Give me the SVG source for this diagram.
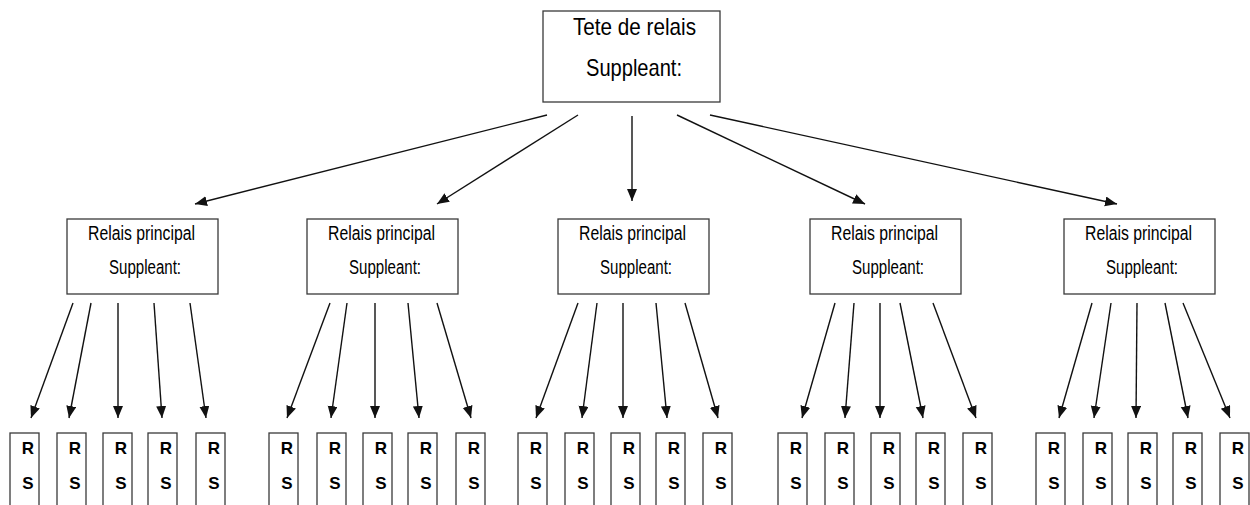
<svg xmlns="http://www.w3.org/2000/svg" width="1250" height="505" viewBox="0 0 1250 505">
<style>
.box{fill:#fff;stroke:#3a3a3a;stroke-width:1.3}
.t{font-family:"Liberation Sans",Arial,sans-serif;fill:#000;text-anchor:middle}
.big{font-size:24px}
.mid{font-size:20px}
.sm{font-size:17px;font-weight:bold}
.c line{stroke:#111;stroke-width:1.4;marker-end:url(#ah)}
</style>
<defs>
<marker id="ah" markerUnits="userSpaceOnUse" markerWidth="13" markerHeight="11" refX="12" refY="5" orient="auto">
<path d="M0,0 L12,5 L0,10 z" fill="#111"/>
</marker>
</defs>
<g id="top">
<rect class="box" x="543" y="11" width="177" height="91"/>
<text class="t big" x="634.5" y="35" textLength="123" lengthAdjust="spacingAndGlyphs">Tete de relais</text>
<text class="t big" x="634" y="76" textLength="96" lengthAdjust="spacingAndGlyphs">Suppleant:</text>
</g>
<g id="m1">
<rect class="box" x="67" y="219" width="151" height="75"/>
<text class="t mid" x="141.5" y="240" textLength="107" lengthAdjust="spacingAndGlyphs">Relais principal</text>
<text class="t mid" x="145" y="274" textLength="72" lengthAdjust="spacingAndGlyphs">Suppleant:</text>
</g>
<g id="m2">
<rect class="box" x="307" y="219" width="151" height="75"/>
<text class="t mid" x="381.5" y="240" textLength="107" lengthAdjust="spacingAndGlyphs">Relais principal</text>
<text class="t mid" x="385" y="274" textLength="72" lengthAdjust="spacingAndGlyphs">Suppleant:</text>
</g>
<g id="m3">
<rect class="box" x="558" y="219" width="151" height="75"/>
<text class="t mid" x="632.5" y="240" textLength="107" lengthAdjust="spacingAndGlyphs">Relais principal</text>
<text class="t mid" x="636" y="274" textLength="72" lengthAdjust="spacingAndGlyphs">Suppleant:</text>
</g>
<g id="m4">
<rect class="box" x="810" y="219" width="151" height="75"/>
<text class="t mid" x="884.5" y="240" textLength="107" lengthAdjust="spacingAndGlyphs">Relais principal</text>
<text class="t mid" x="888" y="274" textLength="72" lengthAdjust="spacingAndGlyphs">Suppleant:</text>
</g>
<g id="m5">
<rect class="box" x="1064" y="219" width="151" height="75"/>
<text class="t mid" x="1138.5" y="240" textLength="107" lengthAdjust="spacingAndGlyphs">Relais principal</text>
<text class="t mid" x="1142" y="274" textLength="72" lengthAdjust="spacingAndGlyphs">Suppleant:</text>
</g>
<g id="leaves1">
<g id="l1a"><rect class="box" x="10" y="433" width="29" height="80"/><text class="t sm" x="28" y="454">R</text><text class="t sm" x="28" y="489">S</text></g>
<g id="l1b"><rect class="box" x="57" y="433" width="29" height="80"/><text class="t sm" x="75" y="454">R</text><text class="t sm" x="75" y="489">S</text></g>
<g id="l1c"><rect class="box" x="103" y="433" width="29" height="80"/><text class="t sm" x="121" y="454">R</text><text class="t sm" x="121" y="489">S</text></g>
<g id="l1d"><rect class="box" x="148" y="433" width="29" height="80"/><text class="t sm" x="166" y="454">R</text><text class="t sm" x="166" y="489">S</text></g>
<g id="l1e"><rect class="box" x="196" y="433" width="29" height="80"/><text class="t sm" x="214" y="454">R</text><text class="t sm" x="214" y="489">S</text></g>
</g>
<g id="leaves2">
<g id="l2a"><rect class="box" x="269" y="433" width="29" height="80"/><text class="t sm" x="287" y="454">R</text><text class="t sm" x="287" y="489">S</text></g>
<g id="l2b"><rect class="box" x="317" y="433" width="29" height="80"/><text class="t sm" x="335" y="454">R</text><text class="t sm" x="335" y="489">S</text></g>
<g id="l2c"><rect class="box" x="363" y="433" width="29" height="80"/><text class="t sm" x="381" y="454">R</text><text class="t sm" x="381" y="489">S</text></g>
<g id="l2d"><rect class="box" x="408" y="433" width="29" height="80"/><text class="t sm" x="426" y="454">R</text><text class="t sm" x="426" y="489">S</text></g>
<g id="l2e"><rect class="box" x="456" y="433" width="29" height="80"/><text class="t sm" x="474" y="454">R</text><text class="t sm" x="474" y="489">S</text></g>
</g>
<g id="leaves3">
<g id="l3a"><rect class="box" x="518" y="433" width="29" height="80"/><text class="t sm" x="536" y="454">R</text><text class="t sm" x="536" y="489">S</text></g>
<g id="l3b"><rect class="box" x="565" y="433" width="29" height="80"/><text class="t sm" x="583" y="454">R</text><text class="t sm" x="583" y="489">S</text></g>
<g id="l3c"><rect class="box" x="611" y="433" width="29" height="80"/><text class="t sm" x="629" y="454">R</text><text class="t sm" x="629" y="489">S</text></g>
<g id="l3d"><rect class="box" x="656" y="433" width="29" height="80"/><text class="t sm" x="674" y="454">R</text><text class="t sm" x="674" y="489">S</text></g>
<g id="l3e"><rect class="box" x="703" y="433" width="29" height="80"/><text class="t sm" x="721" y="454">R</text><text class="t sm" x="721" y="489">S</text></g>
</g>
<g id="leaves4">
<g id="l4a"><rect class="box" x="778" y="433" width="29" height="80"/><text class="t sm" x="796" y="454">R</text><text class="t sm" x="796" y="489">S</text></g>
<g id="l4b"><rect class="box" x="825" y="433" width="29" height="80"/><text class="t sm" x="843" y="454">R</text><text class="t sm" x="843" y="489">S</text></g>
<g id="l4c"><rect class="box" x="871" y="433" width="29" height="80"/><text class="t sm" x="889" y="454">R</text><text class="t sm" x="889" y="489">S</text></g>
<g id="l4d"><rect class="box" x="916" y="433" width="29" height="80"/><text class="t sm" x="934" y="454">R</text><text class="t sm" x="934" y="489">S</text></g>
<g id="l4e"><rect class="box" x="963" y="433" width="29" height="80"/><text class="t sm" x="981" y="454">R</text><text class="t sm" x="981" y="489">S</text></g>
</g>
<g id="leaves5">
<g id="l5a"><rect class="box" x="1036" y="433" width="29" height="80"/><text class="t sm" x="1054" y="454">R</text><text class="t sm" x="1054" y="489">S</text></g>
<g id="l5b"><rect class="box" x="1083" y="433" width="29" height="80"/><text class="t sm" x="1101" y="454">R</text><text class="t sm" x="1101" y="489">S</text></g>
<g id="l5c"><rect class="box" x="1128" y="433" width="29" height="80"/><text class="t sm" x="1146" y="454">R</text><text class="t sm" x="1146" y="489">S</text></g>
<g id="l5d"><rect class="box" x="1173" y="433" width="29" height="80"/><text class="t sm" x="1191" y="454">R</text><text class="t sm" x="1191" y="489">S</text></g>
<g id="l5e"><rect class="box" x="1220" y="433" width="29" height="80"/><text class="t sm" x="1238" y="454">R</text><text class="t sm" x="1238" y="489">S</text></g>
</g>
<g id="connectors" class="c">
<line x1="547" y1="115" x2="195" y2="204"/>
<line x1="578" y1="115" x2="437" y2="204"/>
<line x1="632" y1="116" x2="632" y2="201"/>
<line x1="677" y1="115" x2="865" y2="204"/>
<line x1="710" y1="115" x2="1117" y2="204"/>
<line x1="73" y1="303" x2="31" y2="418"/>
<line x1="91" y1="303" x2="69" y2="418"/>
<line x1="118" y1="303" x2="118" y2="418"/>
<line x1="154" y1="303" x2="162" y2="418"/>
<line x1="190" y1="303" x2="206" y2="418"/>
<line x1="330" y1="303" x2="287" y2="418"/>
<line x1="347" y1="303" x2="331" y2="418"/>
<line x1="375" y1="303" x2="375" y2="418"/>
<line x1="408" y1="303" x2="419" y2="418"/>
<line x1="437" y1="303" x2="471" y2="418"/>
<line x1="578" y1="303" x2="536" y2="418"/>
<line x1="597" y1="303" x2="582" y2="418"/>
<line x1="623" y1="303" x2="623" y2="418"/>
<line x1="656" y1="303" x2="667" y2="418"/>
<line x1="685" y1="303" x2="718" y2="418"/>
<line x1="835" y1="303" x2="802" y2="418"/>
<line x1="854" y1="303" x2="845" y2="418"/>
<line x1="880" y1="303" x2="880" y2="418"/>
<line x1="900" y1="303" x2="923" y2="418"/>
<line x1="933" y1="303" x2="976" y2="418"/>
<line x1="1092" y1="303" x2="1059" y2="418"/>
<line x1="1111" y1="303" x2="1094" y2="418"/>
<line x1="1137" y1="303" x2="1136" y2="418"/>
<line x1="1165" y1="303" x2="1188" y2="418"/>
<line x1="1183" y1="303" x2="1230" y2="418"/>
</g>
</svg>
